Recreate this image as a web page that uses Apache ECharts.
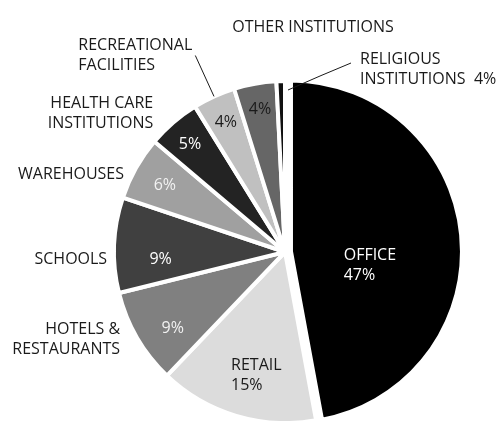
<!DOCTYPE html>
<html>
<head>
<meta charset="utf-8">
<script src="https://cdn.jsdelivr.net/npm/echarts@6/dist/echarts.min.js"></script>
<style>
  html, body { margin: 0; padding: 0; background: #fff; }
  #chart { width: 501px; height: 421px; }
</style>
</head>
<body>
<div id="chart"></div>
<script>
// data, clockwise from 12 o'clock
var categories = ['OFFICE', 'RETAIL', 'HOTELS & RESTAURANTS', 'SCHOOLS', 'WAREHOUSES',
  'HEALTH CARE INSTITUTIONS', 'RECREATIONAL FACILITIES', 'RELIGIOUS INSTITUTIONS', 'OTHER INSTITUTIONS'];
var values = [47, 15, 9, 9, 6, 5, 4, 4, 0.8];
var insideNames = ['OFFICE', 'RETAIL', '', '', '', '', '', '', ''];
var outsideNames = ['', '', 'HOTELS &\nRESTAURANTS', 'SCHOOLS', 'WAREHOUSES', 'HEALTH CARE\nINSTITUTIONS',
  '{l|RECREATIONAL}\n{l|FACILITIES}', 'RELIGIOUS\nINSTITUTIONS  4%', 'OTHER INSTITUTIONS'];

// styles
var colors = ['#000000', '#dcdcdc', '#808080', '#404040', '#a0a0a0', '#232323', '#c0c0c0', '#666666', '#111111'];
var pctColors = ['#ffffff', '#1a1a1a', '#f2f2f2', '#ffffff', '#f2f2f2', '#ffffff', '#1a1a1a', '#1a1a1a', '#ffffff'];
var TEXT = '#1a1a1a';
var FONT = 'Open Sans';
var CENTER = [285, 252];
var R = 171;

// leader line lengths for the outside names [length, length2, showLine]
var nameLines = {
  'HOTELS & RESTAURANTS': [0, 14, false],
  'SCHOOLS': [0, 4, false],
  'WAREHOUSES': [0, 9, false],
  'HEALTH CARE INSTITUTIONS': [17, 4, false],
  'RECREATIONAL FACILITIES': [45, 0, true],
  'RELIGIOUS INSTITUTIONS': [0, 0, true],
  'OTHER INSTITUTIONS': [0, 0, false]
};
// small nudges of the labels [dx, dy]
var pctNudge = {
  'OFFICE': [-63, 27], 'RETAIL': [12, -13], 'SCHOOLS': [18, 13], 'HOTELS & RESTAURANTS': [11, 5],
  'WAREHOUSES': [4, 3], 'HEALTH CARE INSTITUTIONS': [-2, 0], 'RELIGIOUS INSTITUTIONS': [0, -2]
};
var nameNudge = {
  'HOTELS & RESTAURANTS': [0, 2], 'SCHOOLS': [0, 14], 'WAREHOUSES': [0, 6], 'HEALTH CARE INSTITUTIONS': [-2, 4]
};

var chart = echarts.init(document.getElementById('chart'));

function pieData(extra) {
  return categories.map(function (name, i) {
    var d = { name: name, value: values[i], selected: i === 0 };
    return Object.assign(d, extra(i, name));
  });
}

function nudge(map) {
  return function (p) {
    var n = map[categories[p.dataIndex]];
    return n ? { dx: n[0], dy: n[1] } : {};
  };
}

var base = {
  type: 'pie',
  center: CENTER,
  startAngle: 90,
  clockwise: true,
  selectedMode: 'single',
  selectedOffset: 6,
  silent: true,
  animation: false,
  emphasis: { disabled: true }
};

var option = {
  backgroundColor: '#fff',
  animation: false,
  series: [
    // slices
    Object.assign({}, base, {
      radius: R,
      label: { show: false },
      labelLine: { show: false },
      itemStyle: { borderColor: '#fff', borderWidth: 4 },
      select: { itemStyle: { borderColor: '#fff', borderWidth: 4 } },
      data: pieData(function (i) { return { itemStyle: { color: colors[i] } }; })
    }),
    // percentages inside
    Object.assign({}, base, {
      radius: [108, R],
      itemStyle: { color: 'transparent' },
      select: { itemStyle: { color: 'transparent' } },
      labelLine: { show: false },
      label: {
        show: true,
        position: 'inside',
        fontFamily: FONT,
        fontSize: 16,
        lineHeight: 20,
        formatter: function (p) {
          var i = p.dataIndex;
          if (insideNames[i]) return '{l|' + insideNames[i] + '}\n{l|' + values[i] + '%}';
          return values[i] + '%';
        }
      },
      labelLayout: nudge(pctNudge),
      data: pieData(function (i) {
        return { label: { show: i < 8, color: pctColors[i], rich: { l: { color: pctColors[i], align: 'left', fontFamily: FONT, fontSize: 16, lineHeight: 20 } } } };
      })
    }),
    // names outside
    Object.assign({}, base, {
      radius: R,
      avoidLabelOverlap: false,
      z: 3,
      itemStyle: { color: 'transparent' },
      select: { itemStyle: { color: 'transparent' } },
      label: {
        show: true,
        position: 'outside',
        color: TEXT,
        fontFamily: FONT,
        fontSize: 16,
        lineHeight: 20,
        distanceToLabelLine: 3,
        formatter: function (p) { return outsideNames[p.dataIndex]; },
        rich: { l: { align: 'left', color: TEXT, fontFamily: FONT, fontSize: 16, lineHeight: 20 } }
      },
      labelLine: { show: false, lineStyle: { color: TEXT, width: 1 } },
      labelLayout: function (p) {
        var name = categories[p.dataIndex];
        if (name === 'RELIGIOUS INSTITUTIONS') {
          return { x: 360, y: 69, align: 'left', verticalAlign: 'middle',
            labelLinePoints: [[288, 90], [320, 76], [351, 63]] };
        }
        if (name === 'OTHER INSTITUTIONS') {
          return { x: 313, y: 27, align: 'center', verticalAlign: 'middle' };
        }
        return nudge(nameNudge)(p);
      },
      data: pieData(function (i, name) {
        var ln = nameLines[name];
        if (!ln) return { label: { show: false }, labelLine: { show: false } };
        return { labelLine: { show: ln[2], length: ln[0], length2: ln[1] } };
      })
    })
  ]
};

chart.setOption(option);
</script>
</body>
</html>
